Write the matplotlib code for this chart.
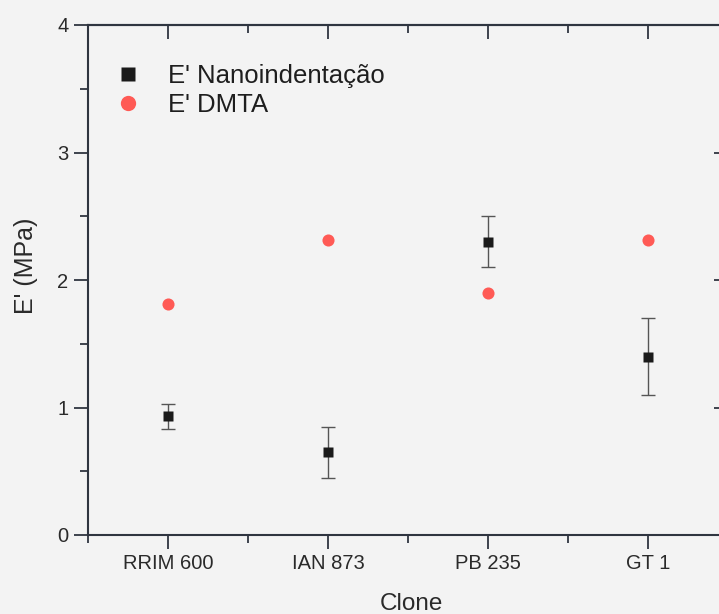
import matplotlib
matplotlib.use("Agg")
import matplotlib.pyplot as plt
from matplotlib.ticker import MultipleLocator, FixedLocator

plt.rcParams['font.family'] = ['Liberation Sans', 'DejaVu Sans']

clones = ["RRIM 600", "IAN 873", "PB 235", "GT 1"]
nano_mean = [0.93, 0.65, 2.30, 1.40]
nano_err = [0.10, 0.20, 0.20, 0.30]
dmta = [1.81, 2.31, 1.90, 2.31]

W, H = 719, 614
fig = plt.figure(figsize=(W / 100, H / 100), dpi=100)
bg = "#f3f3f3"
fig.patch.set_facecolor(bg)

# axes box runs past the right edge of the page, as in the scanned figure
left, right, top, bottom = 88, 728, 25, 535
ax = fig.add_axes([left / W, 1 - bottom / H, (right - left) / W, (bottom - top) / H])
ax.set_facecolor(bg)

x = list(range(1, len(clones) + 1))
ax.errorbar(x, nano_mean, yerr=nano_err, fmt="none",
            ecolor="#555555", elinewidth=1.0, capsize=5, capthick=1.0, zorder=2)
h_nano, = ax.plot(x, nano_mean, "s", color="#1a1a1a", ms=7.5, mec="none",
                  label="E' Nanoindentação", zorder=3)
h_dmta, = ax.plot(x, dmta, "o", color="#ff5a55", ms=8.7, mec="none",
                  label="E' DMTA", zorder=3)

ax.set_xlim(0.5, 4.5)
ax.set_ylim(0, 4)
ax.set_xticks(x)
ax.set_xticklabels(clones)
ax.xaxis.set_minor_locator(FixedLocator([0.5, 1.5, 2.5, 3.5, 4.5]))
ax.yaxis.set_major_locator(MultipleLocator(1))
ax.yaxis.set_minor_locator(MultipleLocator(0.5))

axis_col = "#2f3540"
for s in ax.spines.values():
    s.set_color(axis_col)
    s.set_linewidth(1.5)

ax.tick_params(axis="both", which="major", direction="out", length=10, width=1.3,
               color=axis_col, labelsize=14.5, labelcolor="#2a2a2a", pad=4)
ax.tick_params(axis="both", which="minor", direction="out", length=5.5, width=1.3,
               color=axis_col)

# top and right axes carry inward ticks only
top_ax = ax.secondary_xaxis("top")
top_ax.set_xticks(x)
top_ax.xaxis.set_minor_locator(FixedLocator([0.5, 1.5, 2.5, 3.5, 4.5]))
top_ax.tick_params(which="major", direction="in", length=10, width=1.3, color=axis_col,
                   labeltop=False)
top_ax.tick_params(which="minor", direction="in", length=5.5, width=1.3, color=axis_col)
top_ax.spines["top"].set_color(axis_col)
top_ax.spines["top"].set_linewidth(1.5)

right_ax = ax.secondary_yaxis("right")
right_ax.yaxis.set_major_locator(MultipleLocator(1))
right_ax.yaxis.set_minor_locator(MultipleLocator(0.5))
right_ax.tick_params(which="major", direction="in", length=10, width=1.3, color=axis_col,
                     labelright=False)
right_ax.tick_params(which="minor", direction="in", length=5.5, width=1.3, color=axis_col)

ax.set_ylabel("E' (MPa)", fontsize=18, color="#2a2a2a")
ax.yaxis.set_label_coords(-0.078, 0.527)
ax.set_xlabel("Clone", fontsize=17.5, color="#2a2a2a")
ax.xaxis.set_label_coords(0.505, -0.113)

leg = ax.legend(handles=[h_nano, h_dmta], loc="upper left",
                bbox_to_anchor=(0.026, 0.944), frameon=False,
                fontsize=18.5, handletextpad=1.05, labelspacing=0.22,
                handlelength=1.0, borderaxespad=0)
leg.legend_handles[0].set_markersize(9.5)
leg.legend_handles[1].set_markersize(11)
for txt in leg.get_texts():
    txt.set_color("#1e1e1e")

fig.savefig("out.png", dpi=100, facecolor=bg)
